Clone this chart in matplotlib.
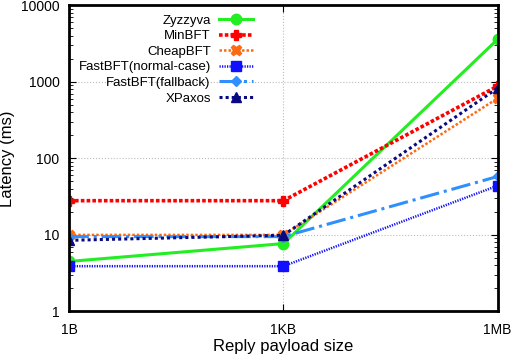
import matplotlib
matplotlib.use("Agg")
import matplotlib.pyplot as plt

# data
sizes = ["1B", "1KB", "1MB"]
zyzzyva = [4.5, 7.7, 3600]
minbft = [28, 28, 880]
cheapbft = [10, 10, 610]
fastbft_normal = [3.9, 3.9, 44]
fastbft_fallback = [9.5, 9.5, 58]
xpaxos = [8.5, 9.9, 830]

plt.rcParams["font.family"] = "Liberation Sans"

fig, ax = plt.subplots(figsize=(5.13, 3.6), dpi=100)
x = range(len(sizes))

ax.plot(x, zyzzyva, color="#22ee22", lw=2.2, ls="-", marker="o", ms=7.5, label="Zyzzyva")
ax.plot(x, minbft, color="#ff0000", lw=2.6, ls=(0, (1, 0.6)), marker="P", ms=7.5, label="MinBFT")
ax.plot(x, cheapbft, color="#ff6a10", lw=1.8, ls=(0, (1, 0.8)), marker="X", ms=7.5, label="CheapBFT")
ax.plot(x, fastbft_normal, color="#1010ff", lw=1.8, ls=(0, (0.5, 0.5)), marker="s", ms=6.5, label="FastBFT(normal-case)")
ax.plot(x, fastbft_fallback, color="#2f8fff", lw=2.2, ls="-.", marker="D", ms=5.5, label="FastBFT(fallback)")
ax.plot(x, xpaxos, color="#0a0a80", lw=2.2, ls=(0, (1, 1)), marker="^", ms=7.5, label="XPaxos")

ax.set_yscale("log")
ax.set_ylim(1, 10000)
ax.set_xlim(0, 2)
ax.set_xticks(list(x))
ax.set_xticklabels(sizes)
ax.set_yticks([1, 10, 100, 1000, 10000])
ax.set_yticklabels(["1", "10", "100", "1000", "10000"])
ax.tick_params(which="both", direction="in", top=True, right=True, labelsize=10)
ax.tick_params(axis="x", which="major", length=5, pad=8)
ax.tick_params(axis="y", which="major", length=5, pad=7)
ax.tick_params(which="minor", length=3)
ax.grid(True, which="major", color="#bbbbbb", ls=":", lw=0.8)
for s in ax.spines.values():
    s.set_linewidth(2)

ax.set_xlabel("Reply payload size", fontsize=12, labelpad=2)
ax.set_ylabel("Latency (ms)", fontsize=12, labelpad=4)

ax.legend(loc="upper left", bbox_to_anchor=(0.0, 1.0), markerfirst=False, frameon=False,
          fontsize=9.5, handlelength=2.6, handletextpad=0.6, labelspacing=0.25, borderaxespad=0.3)

fig.subplots_adjust(left=0.135, right=0.97, top=0.985, bottom=0.135)
fig.savefig("out.png", dpi=100)
